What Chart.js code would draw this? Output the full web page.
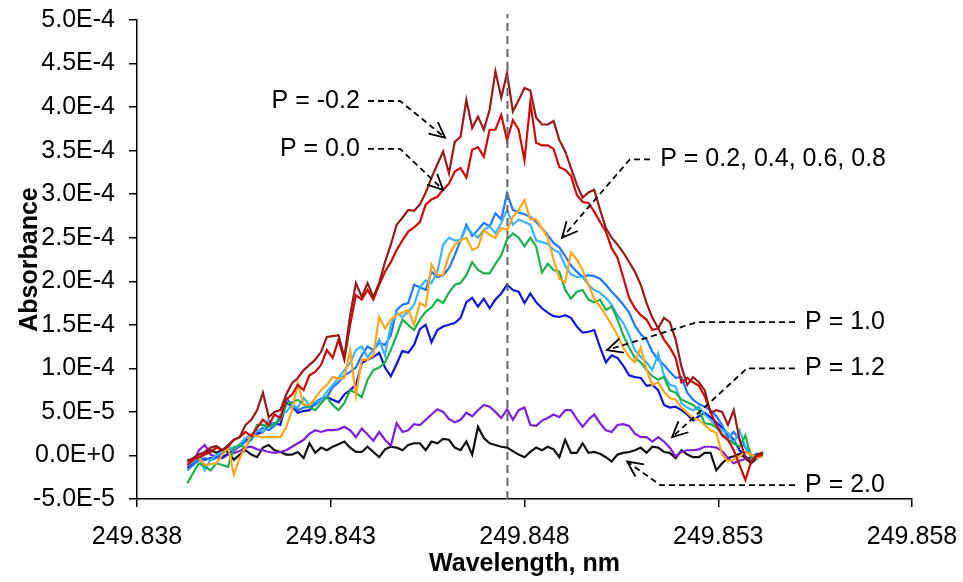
<!DOCTYPE html>
<html lang="en">
<head>
<meta charset="UTF-8">
<title>Absorbance vs wavelength</title>
<script src="https://cdn.jsdelivr.net/npm/chart.js"></script>
<style>
  html, body { margin: 0; padding: 0; background: #fff; }
  canvas { display: block; }
</style>
</head>
<body>
<canvas id="spectra" width="963" height="582"></canvas>
<script>
// wavelength grid, nm
const wavelengths = [
  249.8393, 249.83945, 249.8396, 249.83975, 249.8399, 249.84005, 249.8402, 249.84035, 249.8405, 249.84065,
  249.8408, 249.84095, 249.8411, 249.84125, 249.8414, 249.84155, 249.8417, 249.84185, 249.842, 249.84215,
  249.8423, 249.84245, 249.8426, 249.84275, 249.8429, 249.84305, 249.8432, 249.84335, 249.8435, 249.84365,
  249.8438, 249.84395, 249.8441, 249.84425, 249.8444, 249.84455, 249.8447, 249.84485, 249.845, 249.84515,
  249.8453, 249.84545, 249.8456, 249.84575, 249.8459, 249.84605, 249.8462, 249.84635, 249.8465, 249.84665,
  249.8468, 249.84695, 249.8471, 249.84725, 249.8474, 249.84755, 249.8477, 249.84785, 249.848, 249.84815,
  249.8483, 249.84845, 249.8486, 249.84875, 249.8489, 249.84905, 249.8492, 249.84935, 249.8495, 249.84965,
  249.8498, 249.84995, 249.8501, 249.85025, 249.8504, 249.85055, 249.8507, 249.85085, 249.851, 249.85115,
  249.8513, 249.85145, 249.8516, 249.85175, 249.8519, 249.85205, 249.8522, 249.85235, 249.8525, 249.85265,
  249.8528, 249.85295, 249.8531, 249.85325, 249.8534, 249.85355, 249.8537, 249.85385, 249.854, 249.85415
];

// absorbance, in units of 1E-6
const absPm02 = [
  -7, -3, 1, 4, 9, 11, 6, 12, 18, 21,
  35, 41, 52, 72, 44, 50, 52, 70, 83, 89,
  98, 104, 110, 119, 136, 137, 138, 113, 161, 198,
  182, 198, 182, 198, 222, 242, 265, 273, 282, 281,
  288, 302, 319, 334, 349, 324, 360, 366, 408, 376,
  389, 374, 397, 441, 411, 439, 395, 408, 422, 419,
  388, 380, 380, 384, 362, 349, 330, 311, 296, 302,
  305, 282, 261, 250, 242, 233, 222, 211, 196, 175,
  158, 146, 158, 153, 133, 102, 81, 90, 84, 75,
  49, 52, 50, 35, 52, 18, -2, -7, 1, 3
];
const absP00 = [
  -11, -5, -2, 1, 4, 9, 6, 10, 18, 21,
  27, 22, 32, 41, 35, 47, 43, 64, 70, 81,
  75, 92, 96, 104, 121, 112, 133, 110, 150, 184,
  179, 190, 179, 196, 211, 222, 236, 247, 257, 262,
  268, 288, 294, 297, 305, 312, 326, 330, 319, 351,
  354, 343, 374, 374, 391, 362, 385, 374, 339, 405,
  359, 356, 356, 352, 331, 328, 321, 299, 291, 290,
  280, 268, 257, 238, 227, 204, 181, 169, 161, 156,
  144, 146, 133, 124, 112, 84, 89, 84, 80, 68,
  50, 35, 23, 18, 6, -11, -28, -7, -1, 1
];
const absP02 = [
  -9, -5, -3, -11, -10, -9, 1, 10, -22, -3,
  9, 24, 22, 21, 21, 21, 21, 32, 52, 83,
  58, 58, 66, 75, 81, 90, 88, 89, 121, 69,
  110, 110, 115, 159, 146, 156, 161, 164, 167, 150,
  175, 171, 219, 207, 207, 230, 242, 247, 250, 236,
  239, 259, 253, 250, 261, 259, 274, 282, 293, 271,
  271, 261, 250, 225, 203, 199, 233, 225, 213, 196,
  180, 171, 161, 150, 138, 124, 113, 107, 124, 98,
  81, 84, 73, 66, 64, 55, 49, 43, 41, 35,
  29, 26, 1, -7, -5, -1, 4, 1, -3, -1
];
const absP04 = [
  -17, -11, -5, -3, -5, -3, 4, 6, 9, 10,
  16, 18, 27, 32, 29, 34, 43, 66, 58, 52,
  55, 56, 58, 64, 67, 78, 84, 92, 96, 101,
  115, 125, 121, 129, 127, 138, 167, 173, 175, 196,
  193, 190, 211, 205, 207, 215, 230, 247, 265, 252,
  259, 267, 263, 278, 271, 301, 282, 279, 277, 274,
  268, 261, 253, 244, 239, 229, 218, 211, 205, 207,
  206, 203, 196, 188, 181, 173, 164, 149, 139, 133,
  119, 110, 104, 96, 89, 90, 72, 64, 59, 56,
  52, 45, 35, 20, 27, 18, 9, -1, 2, 1
];
const absP06 = [
  -12, -7, -2, -17, -5, 1, 4, 10, 7, 13,
  20, 24, 29, 27, 41, 35, 47, 50, 58, 55,
  66, 58, 61, 64, 73, 81, 89, 98, 106, 121,
  125, 113, 121, 133, 115, 150, 164, 159, 165, 173,
  193, 201, 198, 211, 242, 250, 247, 247, 262, 255,
  250, 259, 263, 255, 267, 282, 265, 271, 268, 265,
  247, 245, 243, 236, 233, 218, 208, 205, 205, 196,
  190, 187, 181, 173, 161, 152, 138, 121, 113, 107,
  98, 117, 92, 81, 79, 60, 55, 52, 56, 47,
  41, 33, 29, 26, 14, 29, 10, 1, -3, 4
];
const absP08 = [
  -32, -20, -9, -13, -17, -9, -11, -13, 9, 12,
  9, 20, 35, 35, 33, 36, 41, 58, 61, 64,
  59, 55, 52, 60, 67, 58, 52, 60, 75, 72,
  67, 87, 98, 101, 107, 121, 138, 156, 150, 144,
  156, 165, 170, 179, 175, 187, 196, 198, 207, 222,
  213, 209, 209, 220, 230, 248, 255, 250, 240, 250,
  240, 210, 220, 213, 211, 190, 180, 188, 190, 179,
  176, 179, 167, 171, 156, 138, 124, 112, 107, 98,
  91, 87, 90, 75, 72, 64, 61, 58, 52, 37,
  36, 32, 25, 18, 14, 10, 23, -3, -2, 1
];
const absP10 = [
  -14, -9, -3, -5, -3, -2, -2, 2, 6, 11,
  17, 20, 25, 27, 36, 37, 35, 61, 56, 49,
  51, 52, 61, 65, 67, 64, 61, 70, 75, 81,
  106, 110, 113, 118, 101, 91, 105, 120, 118, 127,
  145, 150, 130, 144, 148, 150, 152, 158, 176, 181,
  171, 180, 169, 179, 186, 196, 190, 188, 175, 186,
  176, 169, 164, 160, 159, 161, 158, 148, 141, 142,
  144, 124, 107, 115, 112, 103, 92, 90, 89, 80,
  81, 75, 58, 55, 56, 52, 47, 40, 45, 49,
  44, 38, 32, 25, 18, 6, -1, -7, -1, 3
];
const absP12 = [
  -11, -7, 6, 12, 1, -2, -3, 1, 3, 5,
  9, 10, 7, 6, 4, 3, 4, 6, 10, 14,
  18, 25, 29, 27, 29, 29, 30, 33, 29, 21,
  31, 24, 17, 27, 18, 11, 37, 27, 29, 36,
  35, 41, 47, 53, 50, 42, 38, 41, 49, 45,
  52, 58, 56, 50, 43, 53, 41, 52, 55, 35,
  34, 40, 43, 47, 44, 52, 52, 42, 33, 41,
  47, 37, 29, 27, 35, 36, 34, 25, 21, 21,
  16, 21, 16, 9, -1, 4, 6, 6, 7, 10,
  10, 9, 5, -3, -9, -6, -4, -2, -1, 3
];
const absP20 = [
  -5, -7, -3, 2, 6, 3, 6, 4, -5, 1,
  6, 1, -2, 9, 12, 6, 4, 1, 1, 4,
  -3, 14, 3, 9, 6, 10, 13, 16, 9, 4,
  4, 10, 4, -2, 7, 10, 9, 6, 12, 14,
  14, 6, 16, 14, 19, 18, 9, 6, 16, 1,
  33, 20, 14, 12, 10, 9, 5, 1, -2, 4,
  9, 6, 10, 7, -2, 18, 3, 3, 14, 3,
  4, 2, -2, -7, 1, 3, 4, 6, 9, 3,
  10, 9, 4, 3, -3, 6, 1, -2, -2, 3,
  3, -17, -9, -3, -1, 2, -3, -9, -3, 4
];

const xTicks = [249.838, 249.843, 249.848, 249.853, 249.858];
const yTicks = [-50, 0, 50, 100, 150, 200, 250, 300, 350, 400, 450, 500];
const lineCentre = 249.84756;

const series = [
  { label: 'P = -0.2', values: absPm02, color: '#961c1c' },
  { label: 'P = 0.0', values: absP00, color: '#cc0a0a' },
  { label: 'P = 0.2', values: absP02, color: '#ffa51f' },
  { label: 'P = 0.8', values: absP08, color: '#1eb04e' },
  { label: 'P = 0.6', values: absP06, color: '#3cb2ff' },
  { label: 'P = 0.4', values: absP04, color: '#1f78ff' },
  { label: 'P = 1.0', values: absP10, color: '#1414d2' },
  { label: 'P = 1.2', values: absP12, color: '#7d1fd9' },
  { label: 'P = 2.0', values: absP20, color: '#111111' }
];

// text callouts: label anchor and dashed leader ending in an open arrow (wavelength, absorbance)
const callouts = [
  { text: 'P = -0.2', align: 'right', at: [249.84375, 407],
    path: [[249.84396, 407], [249.84479, 407], [249.84595, 365]] },
  { text: 'P = 0.0', align: 'right', at: [249.84375, 352],
    path: [[249.84396, 352], [249.84479, 352], [249.84590, 305]] },
  { text: 'P = 0.2, 0.4, 0.6, 0.8', align: 'left', at: [249.85150, 340],
    path: [[249.85124, 340], [249.85072, 340], [249.84897, 250]] },
  { text: 'P = 1.0', align: 'left', at: [249.85524, 153],
    path: [[249.85498, 153], [249.85245, 153], [249.85013, 121]] },
  { text: 'P = 1.2', align: 'left', at: [249.85524, 100],
    path: [[249.85498, 100], [249.85374, 100], [249.85181, 21]] },
  { text: 'P = 2.0', align: 'left', at: [249.85524, -34],
    path: [[249.85498, -34], [249.85150, -34], [249.85065, -7]] }
];

const FONT = '"Liberation Sans", Arial, sans-serif';
Chart.defaults.font.family = FONT;
Chart.defaults.color = '#000';

const calloutPlugin = {
  id: 'callouts',
  afterDatasetsDraw(chart) {
    const { ctx, scales: { x, y } } = chart;
    ctx.save();
    ctx.font = '25px ' + FONT;
    ctx.fillStyle = '#000';
    ctx.strokeStyle = '#000';
    ctx.lineWidth = 1.8;
    ctx.textBaseline = 'middle';
    callouts.forEach(c => {
      const pts = c.path.map(([w, a]) => [x.getPixelForValue(w), y.getPixelForValue(a)]);
      ctx.setLineDash([6, 4]);
      ctx.beginPath();
      pts.forEach(([px, py], i) => (i ? ctx.lineTo(px, py) : ctx.moveTo(px, py)));
      ctx.stroke();
      // open arrow head at the end of the leader
      const [x1, y1] = pts[pts.length - 2];
      const [x2, y2] = pts[pts.length - 1];
      const ang = Math.atan2(y2 - y1, x2 - x1);
      ctx.setLineDash([]);
      ctx.beginPath();
      ctx.moveTo(x2 - 17 * Math.cos(ang - 0.45), y2 - 17 * Math.sin(ang - 0.45));
      ctx.lineTo(x2, y2);
      ctx.lineTo(x2 - 17 * Math.cos(ang + 0.45), y2 - 17 * Math.sin(ang + 0.45));
      ctx.stroke();
      ctx.textAlign = c.align;
      ctx.fillText(c.text, x.getPixelForValue(c.at[0]), y.getPixelForValue(c.at[1]));
    });
    ctx.restore();
  }
};

const datasets = [{
  label: 'line centre',
  data: [{ x: lineCentre, y: -50 }, { x: lineCentre, y: 507 }],
  borderColor: '#666',
  borderWidth: 2,
  borderDash: [8, 5],
  clip: false
}].concat(series.map(s => ({
  label: s.label,
  data: wavelengths.map((w, i) => ({ x: w, y: s.values[i] })),
  borderColor: s.color,
  borderWidth: 2.2
})));

new Chart(document.getElementById('spectra'), {
  type: 'line',
  data: { datasets },
  options: {
    responsive: false,
    animation: false,
    layout: { padding: { left: 0, right: 51, top: 20, bottom: 0 } },
    elements: { point: { radius: 0 }, line: { tension: 0 } },
    plugins: { legend: { display: false }, tooltip: { enabled: false } },
    scales: {
      x: {
        type: 'linear',
        min: 249.838,
        max: 249.858,
        afterBuildTicks: s => { s.ticks = xTicks.map(v => ({ value: v })); },
        afterFit: s => { s.height = 83; s.paddingLeft = 0; s.paddingRight = 0; },
        ticks: {
          callback: v => v.toFixed(3),
          font: { size: 25 },
          padding: 15,
          maxRotation: 0,
          autoSkip: false
        },
        grid: { drawOnChartArea: false, tickLength: 8, color: '#000', lineWidth: 1.5 },
        border: { color: '#000', width: 1.5 },
        title: {
          display: true,
          text: 'Wavelength, nm',
          font: { size: 25, weight: 'bold' },
          padding: { top: 0, bottom: 3 }
        }
      },
      y: {
        min: -50,
        max: 500,
        afterBuildTicks: s => { s.ticks = yTicks.map(v => ({ value: v })); },
        afterFit: s => { s.width = 137; s.paddingTop = 0; s.paddingBottom = 0; },
        ticks: {
          callback: v => (v * 1e-6).toExponential(1).toUpperCase(),
          font: { size: 25 },
          padding: 14
        },
        grid: { drawOnChartArea: false, tickLength: 8, color: '#000', lineWidth: 1.5 },
        border: { color: '#000', width: 1.5 },
        title: {
          display: true,
          text: 'Absorbance',
          font: { size: 25, weight: 'bold' },
          padding: { top: 15, bottom: 0 }
        }
      }
    }
  },
  plugins: [calloutPlugin]
});
</script>
</body>
</html>
